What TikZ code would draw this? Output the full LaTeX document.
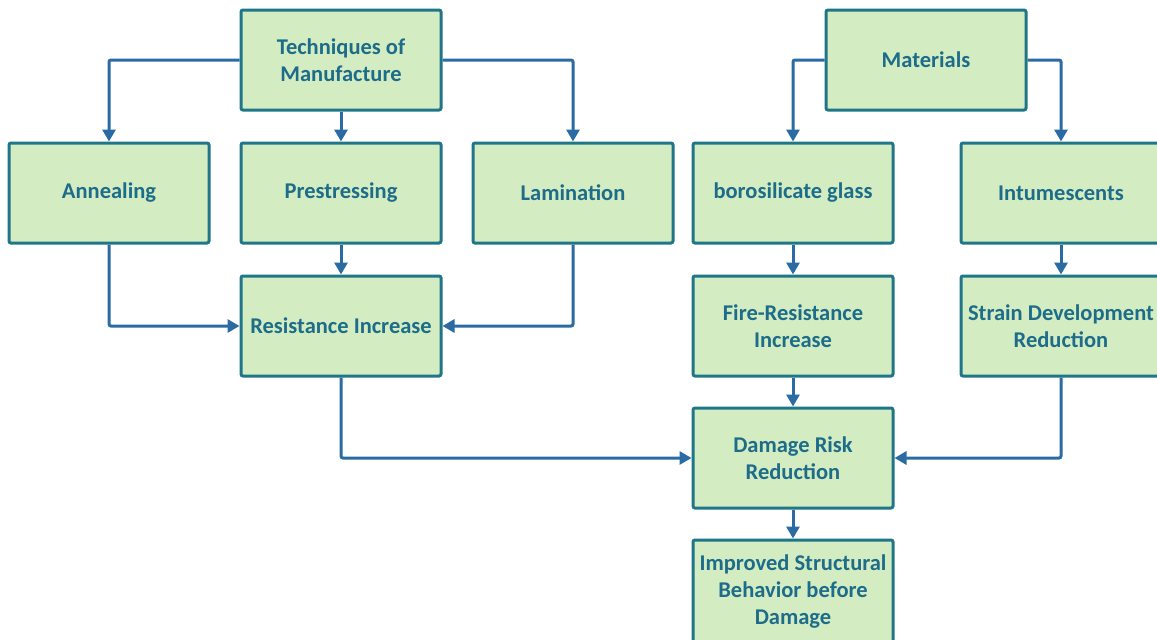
\documentclass[tikz,border=0pt]{standalone}
\usepackage{fontspec}
\setmainfont{Carlito}
\usetikzlibrary{arrows.meta}
\definecolor{boxfill}{HTML}{D3ECC2}
\definecolor{boxline}{HTML}{1F7689}
\definecolor{boxtext}{HTML}{1D6C8A}
\definecolor{linkcol}{HTML}{2A6BA3}
\begin{document}
\begin{tikzpicture}[x=1pt,y=-1pt,
  stepbox/.style={draw=boxline, fill=boxfill, line width=3pt, rounded corners=2pt,
    minimum width=200pt, minimum height=100pt, inner sep=0pt, align=center,
    text=boxtext, font=\fontsize{22.5}{27}\selectfont\bfseries},
  link/.style={draw=linkcol, line width=3pt, rounded corners=2pt,
    -{Triangle[length=12pt,width=13pt]}}]
\useasboundingbox (0,0) rectangle (1157,640);
\clip (0,0) rectangle (1157,640);
% top level
\node[stepbox] (tech) at (341,60) {Techniques of\\Manufacture};
\node[stepbox] (mat)  at (926,60) {Materials};
% second row
\node[stepbox] (ann) at (109,193) {Annealing};
\node[stepbox] (pre) at (341,193) {Prestressing};
\node[stepbox] (lam) at (573,193) {Lamination};
\node[stepbox] (bor) at (793,193) {borosilicate glass};
\node[stepbox] (int) at (1061,193) {Intumescents};
% third row
\node[stepbox] (res) at (341,326) {Resistance Increase};
\node[stepbox] (fire) at (793,326) {Fire-Resistance\\Increase};
\node[stepbox] (strain) at (1061,326) {Strain Development\\Reduction};
% outcome
\node[stepbox] (dmg) at (793,458) {Damage Risk\\Reduction};
\node[stepbox, minimum height=104pt] (imp) at (793,592) {Improved Structural\\Behavior before\\Damage};
% connectors
\draw[link] (tech.west) -| (ann.north);
\draw[link] (tech.south) -- (pre.north);
\draw[link] (tech.east) -| (lam.north);
\draw[link] (mat.west) -| (bor.north);
\draw[link] (mat.east) -| (int.north);
\draw[link] (ann.south) |- (res.west);
\draw[link] (pre.south) -- (res.north);
\draw[link] (lam.south) |- (res.east);
\draw[link] (bor.south) -- (fire.north);
\draw[link] (int.south) -- (strain.north);
\draw[link] (res.south) |- (dmg.west);
\draw[link] (fire.south) -- (dmg.north);
\draw[link] (strain.south) |- (dmg.east);
\draw[link] (dmg.south) -- (imp.north);
\end{tikzpicture}
\end{document}
